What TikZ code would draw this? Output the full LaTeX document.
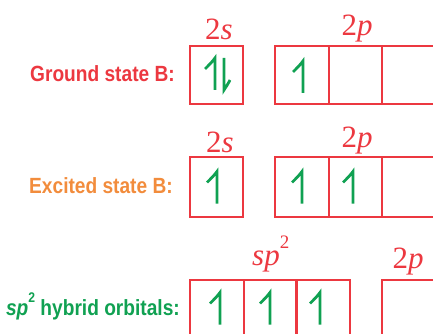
\documentclass[tikz,border=0pt]{standalone}
\usepackage{fontspec}
\setmainfont{Liberation Serif}
\newfontfamily\labfont[FakeStretch=0.87]{Liberation Sans}
\definecolor{bred}{HTML}{EC3840}
\definecolor{borange}{HTML}{F28C3C}
\definecolor{bgreen}{HTML}{10A152}
\tikzset{
  orb/.style={draw=bred, line width=1.6pt, minimum width=53.5pt, inner sep=0pt},
  harp/.style={draw=bgreen, line width=2.8pt, line join=miter},
  statelab/.style={anchor=base east, inner sep=0pt, font=\labfont\bfseries\fontsize{22}{22}\selectfont},
  orblab/.style={anchor=base, inner sep=0pt, text=bred, font=\fontsize{31}{31}\selectfont}
}
% up harpoon: #1 node, #2 dx, #3 dy
\newcommand{\upharp}[3]{%
  \begin{scope}[shift={(#1.center)}]
    \draw[harp] (#2-10,#3-16+11) .. controls (#2-6,#3-16+7) and (#2-2,#3-16+3) .. (#2,#3-16) -- (#2,#3+16);
  \end{scope}}
\newcommand{\downharp}[3]{%
  \begin{scope}[shift={(#1.center)}]
    \draw[harp] (#2,#3-16) -- (#2,#3+16) .. controls (#2+2,#3+16-3) and (#2+4,#3+16-6) .. (#2+6,#3+16-10);
  \end{scope}}
\begin{document}
\begin{tikzpicture}[x=1pt,y=-1pt]
\useasboundingbox (0,0) rectangle (433,334);
% Row 1: ground state
\node[statelab, text=bred] (l1) at (175,82) {Ground state B:};
\node[orb, minimum height=58pt] (g0) at (216.5,75) {};
\node[orb, minimum height=58pt] (g1) at (302,75) {};
\node[orb, minimum height=58pt] (g2) at (355.5,75) {};
\node[orb, minimum height=58pt] (g3) at (409,75) {};
\node[orblab] (g2s) at (219,40) {2\textit{s}};
\node[orblab] (g2p) at (357,36) {2\textit{p}};
\upharp{g0}{-1.5}{-1}
\downharp{g0}{7.5}{-1}
\upharp{g1}{1}{2}
% Row 2: excited state
\node[statelab, text=borange] (l2) at (173,193) {Excited state B:};
\node[orb, minimum height=60pt] (e0) at (216.5,187) {};
\node[orb, minimum height=60pt] (e1) at (302,187) {};
\node[orb, minimum height=60pt] (e2) at (355.5,187) {};
\node[orb, minimum height=60pt] (e3) at (409,187) {};
\node[orblab] (e2s) at (220,152) {2\textit{s}};
\node[orblab] (e2p) at (357,147) {2\textit{p}};
\upharp{e0}{0.5}{0.5}
\upharp{e1}{0}{0.5}
\upharp{e2}{-2.5}{0.5}
% Row 3: sp2 hybrid
\node[statelab, text=bgreen] (l3) at (180,315) {\textit{sp}\raisebox{13pt}{\fontsize{14}{14}\selectfont 2} hybrid orbitals:};
\node[orb, minimum height=59pt, minimum width=54pt] (h0) at (217,309.5) {};
\node[orb, minimum height=59pt, minimum width=53pt] (h1) at (270.5,309.5) {};
\node[orb, minimum height=59pt, minimum width=54pt] (h2) at (323,309.5) {};
\node[orb, minimum height=59pt] (h3) at (409,309.5) {};
\node[orblab, anchor=base west] (hsp) at (252,265) {\textit{sp}\raisebox{17pt}{\fontsize{19}{19}\selectfont 2}};
\node[orblab] (h2p) at (408,268) {2\textit{p}};
\upharp{h0}{3}{-1}
\upharp{h1}{-0.5}{-1}
\upharp{h2}{-3}{-1}
\end{tikzpicture}
\end{document}
